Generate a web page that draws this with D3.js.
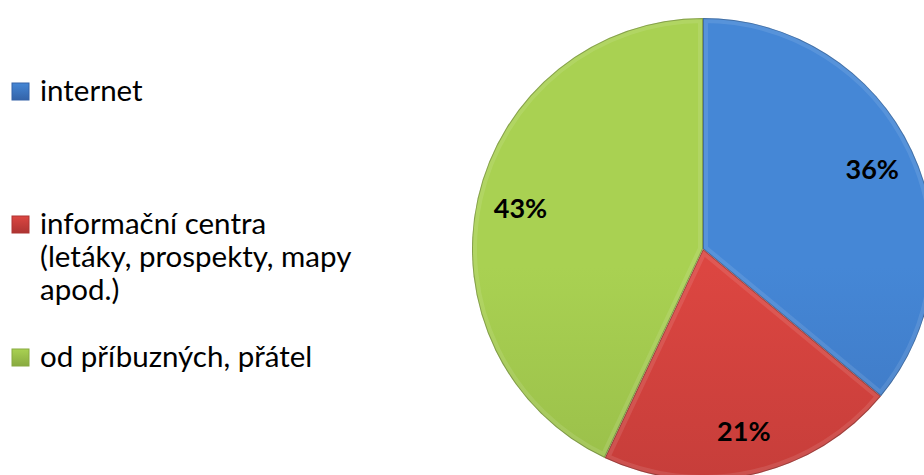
<!DOCTYPE html>
<html>
<head>
<meta charset="utf-8">
<script src="https://cdn.jsdelivr.net/npm/d3@7"></script>
<style>
  html, body { margin: 0; padding: 0; background: #ffffff; overflow: hidden; }
  svg { display: block; }
  text { font-family: Lato, "Noto Sans", sans-serif; fill: #000; }
</style>
</head>
<body>
<svg id="chart" width="924" height="475"></svg>
<script>
// Zdroje informací – podíl odpovědí
const categories = ["internet", "informační centra (letáky, prospekty, mapy apod.)", "od příbuzných, přátel"];
const legendLines = [["internet"], ["informační centra", "(letáky, prospekty, mapy", "apod.)"], ["od příbuzných, přátel"]];
const values = [36, 21, 43];
const colorsTop = ["#4587d6", "#dc4641", "#a9d152"];
const colorsBottom = ["#3463a8", "#ad3432", "#88aa40"];

const svg = d3.select("#chart");
const defs = svg.append("defs");

const cx = 703, cy = 249, r = 231;

// vertical gradient for each slice, spanning the whole pie
colorsTop.forEach((c, i) => {
  const g = defs.append("linearGradient")
    .attr("id", "grad" + i)
    .attr("gradientUnits", "userSpaceOnUse")
    .attr("x1", 0).attr("y1", cy - r).attr("x2", 0).attr("y2", cy + r);
  g.append("stop").attr("offset", "0%").attr("stop-color", c);
  g.append("stop").attr("offset", "100%").attr("stop-color", colorsBottom[i]);
});

const pie = d3.pie().sort(null).value(d => d);
const arcs = pie(values);
const arc = d3.arc().innerRadius(0).outerRadius(r);
const labelArc = d3.arc().innerRadius(187).outerRadius(187);

const pieG = svg.append("g").attr("transform", `translate(${cx},${cy})`);

arcs.forEach((a, i) => {
  defs.append("clipPath").attr("id", "clip" + i)
    .append("path").attr("d", arc(a));
});

const slices = pieG.selectAll("g.slice").data(arcs).enter().append("g").attr("class", "slice");

slices.append("path")
  .attr("d", arc)
  .attr("fill", (d, i) => `url(#grad${i})`);

// soft bevel along the slice edges
slices.append("path")
  .attr("d", arc)
  .attr("fill", "none")
  .attr("stroke", "#ffffff")
  .attr("stroke-opacity", 0.1)
  .attr("stroke-width", 10)
  .attr("clip-path", (d, i) => `url(#clip${i})`);

slices.append("path")
  .attr("d", arc)
  .attr("fill", "none")
  .attr("stroke", "#000000")
  .attr("stroke-opacity", 0.25)
  .attr("stroke-width", 2)
  .attr("clip-path", (d, i) => `url(#clip${i})`);

pieG.selectAll("text.pct").data(arcs).enter().append("text")
  .attr("class", "pct")
  .attr("transform", d => `translate(${labelArc.centroid(d)})`)
  .attr("text-anchor", "middle")
  .attr("dy", "0.35em")
  .style("font-size", "27px")
  .style("font-weight", "bold")
  .text(d => d.data + "%");

// legend
const legendTop = [101, 234, 367];
const lineH = 33;
const lg = svg.append("g");
legendLines.forEach((lines, i) => {
  const g = lg.append("g");
  const mg = defs.append("linearGradient").attr("id", "lgrad" + i)
    .attr("x1", 0).attr("y1", 0).attr("x2", 0).attr("y2", 1);
  mg.append("stop").attr("offset", "0%").attr("stop-color", colorsTop[i]);
  mg.append("stop").attr("offset", "100%").attr("stop-color", colorsBottom[i]);
  g.append("rect")
    .attr("x", 12).attr("y", legendTop[i] - 18)
    .attr("width", 17).attr("height", 17)
    .attr("fill", `url(#lgrad${i})`)
    .attr("stroke", colorsBottom[i]).attr("stroke-width", 1);
  lines.forEach((t, j) => {
    g.append("text")
      .attr("x", 40).attr("y", legendTop[i] + j * lineH)
      .style("font-size", "29.5px")
      .text(t);
  });
});
</script>
</body>
</html>
